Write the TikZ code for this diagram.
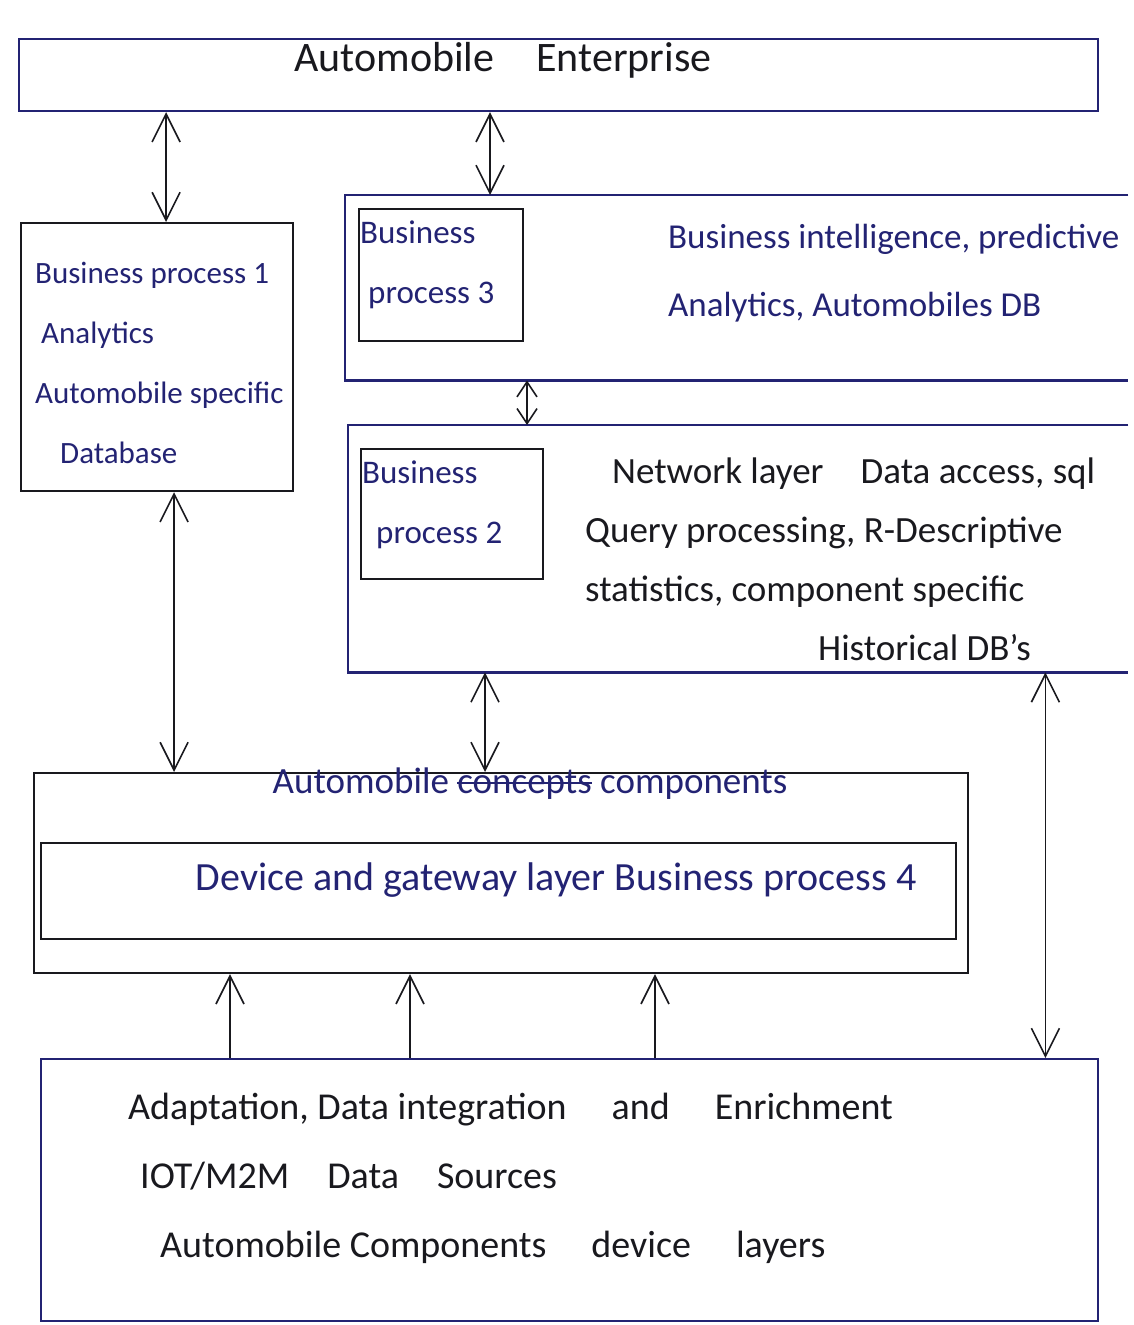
\documentclass[tikz,border=0pt]{standalone}
\usepackage{fontspec}
\setmainfont{Carlito}
\usetikzlibrary{arrows.meta}
\definecolor{ink}{RGB}{35,35,115}
\definecolor{pencil}{RGB}{25,25,30}
\newcommand\crossout[1]{\setbox0\hbox{#1}\rlap{\rule[0.28em]{\wd0}{1.5pt}}\box0\relax}
\tikzset{%
  layer/.style  = {draw=ink, line width=2.2pt, anchor=north west,%
                   inner sep=0pt},%
  frame/.style  = {anchor=north west, inner sep=0pt},%
  edges/.style  = {draw=ink, line width=2.2pt},%
  txt/.style    = {anchor=north west, align=left, inner sep=0pt,%
                   text=ink, font=\fontsize{35}{68}\selectfont},%
  barb/.tip     = {Straight Barb[length=28pt,width=28pt,line width=1.6pt]},%
  smallbarb/.tip = {Straight Barb[length=15pt,width=20pt,line width=1.6pt]},%
  dbl/.style    = {draw=pencil, line width=1.6pt, barb-barb},%
  up/.style     = {draw=pencil, line width=1.6pt, -barb}%
}

\begin{document}
\begin{tikzpicture}[x=1pt,y=-1pt]
  \useasboundingbox (0,0) rectangle (1134,1325);
  % enterprise layer
  \node (ent) [layer, minimum width=1079pt, minimum height=72pt] at (18,38) {};
  \node (enttitle) [txt, anchor=center, text=pencil,%
    font=\fontsize{42}{44}\selectfont] at (503,60) {Automobile\quad Enterprise};
  % business process 1
  \node (bp1) [layer, draw=pencil, minimum width=272pt, minimum height=268pt] at (20,222) {};
  \node (bp1text) [txt, font=\fontsize{31}{60}\selectfont] at (35,262)
    {Business process 1\\\hspace*{6pt}Analytics\\Automobile specific\\\hspace*{25pt}Database};
  % business intelligence layer
  \node (bilayer) [frame, minimum width=783pt, minimum height=185pt] at (345,195) {};
  \draw [edges] (bilayer.north east) -- (bilayer.north west)
    -- (bilayer.south west) -- (bilayer.south east);
  \node (bp3) [layer, draw=pencil, minimum width=164pt, minimum height=132pt] at (358,208) {};
  \node (bp3text) [txt, font=\fontsize{33}{60}\selectfont] at (360,221)
    {Business\\\hspace*{8pt}process 3};
  \node (bitext) [txt] at (668,224)
    {Business intelligence, predictive\\Analytics, Automobiles DB};
  % network layer
  \node (netlayer) [frame, minimum width=780pt, minimum height=247pt] at (348,425) {};
  \draw [edges] (netlayer.north east) -- (netlayer.north west)
    -- (netlayer.south west) -- (netlayer.south east);
  \node (bp2) [layer, draw=pencil, minimum width=182pt, minimum height=130pt] at (360,448) {};
  \node (bp2text) [txt, font=\fontsize{33}{60}\selectfont] at (362,461)
    {Business\\\hspace*{14pt}process 2};
  \node (nettext) [txt, text=pencil, font=\fontsize{37}{59}\selectfont] at (585,458)
    {\hspace*{27pt}Network layer\quad Data access, sql\\
     Query processing, R-Descriptive\\
     statistics, component specific\\
     \hspace*{233pt}Historical DB's};
  % automobile components
  \node (comp) [layer, draw=pencil, minimum width=934pt, minimum height=200pt] at (33,772) {};
  \node (comptitle) [txt, anchor=center, font=\fontsize{37}{40}\selectfont] at (530,784)
    {Automobile \crossout{concepts} components};
  \node (device) [layer, draw=pencil, minimum width=915pt, minimum height=96pt] at (40,842) {};
  \node (devicetext) [txt, anchor=center, font=\fontsize{40}{44}\selectfont] at (556,880)
    {Device and gateway layer Business process 4};
  % data sources
  \node (sources) [layer, minimum width=1057pt, minimum height=262pt] at (40,1058) {};
  \node (sourcetext) [txt, text=pencil, font=\fontsize{38}{69}\selectfont] at (128,1093)
    {Adaptation, Data integration\hspace{45pt}and\hspace{45pt}Enrichment\\
     \hspace*{12pt}IOT/M2M\quad Data\quad Sources\\
     \hspace*{32pt}Automobile Components\hspace{45pt}device\hspace{45pt}layers};
  % connectors
  \draw [dbl] ([xshift=9pt]bp1.north |- ent.south) -- ([xshift=9pt]bp1.north);
  \draw [dbl] ([xshift=145pt]bilayer.north west |- ent.south)
    -- ([xshift=145pt]bilayer.north west);
  \draw [dbl, smallbarb-smallbarb] ([xshift=182pt]bilayer.south west)
    -- ([xshift=182pt]bilayer.south west |- netlayer.north);
  \draw [dbl] ([xshift=17pt]bp1.south) -- ([xshift=17pt]bp1.south |- comp.north);
  \draw [dbl] ([xshift=137pt]netlayer.south west)
    -- ([xshift=137pt]netlayer.south west |- comp.north);
  \draw [dbl] ([xshift=-83pt]netlayer.south east)
    -- ([xshift=-83pt]netlayer.south east |- sources.north);
  \foreach \dx in {190,370,615}
    \draw [up] ([xshift=\dx pt]sources.north west)
      -- ([xshift=\dx pt]sources.north west |- comp.south);
\end{tikzpicture}
\end{document}
